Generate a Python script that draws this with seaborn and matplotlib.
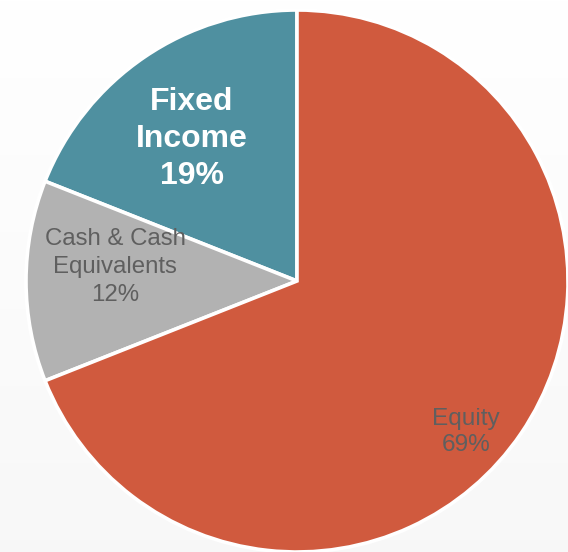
import numpy as np
import seaborn as sns
import matplotlib.pyplot as plt

# data
categories = ['Fixed Income', 'Cash & Cash Equivalents', 'Equity']
shares = [19, 12, 69]
label_texts = ['Fixed\nIncome\n19%', 'Cash & Cash\nEquivalents\n12%', 'Equity\n69%']
colors = ['#4F90A0', '#B2B2B2', '#D05A3E']

sns.set_theme(style="white")
plt.rcParams['font.family'] = ['Liberation Sans', 'DejaVu Sans']

fig = plt.figure(figsize=(5.68, 5.52), dpi=100)

# soft white -> light grey background
bg = fig.add_axes([0, 0, 1, 1], zorder=0)
grad = np.linspace(1.0, 0.972, 256).reshape(-1, 1)
bg.imshow(np.dstack([grad, grad, grad]), aspect='auto', extent=[0, 1, 0, 1])
bg.axis('off')

ax = fig.add_axes([26 / 568, 0, 542 / 568, 542 / 552], zorder=1)
ax.patch.set_alpha(0)
wedges, _ = ax.pie(shares, colors=colors, startangle=90, counterclock=True,
                   radius=1.0,
                   wedgeprops=dict(edgecolor='white', linewidth=2.6))
ax.set_xlim(-1, 1)
ax.set_ylim(-1, 1)
ax.set_aspect('equal')
ax.axis('off')

# label placement: radial distance and angular nudge per wedge
label_r = [0.652, 0.673, 0.835]
label_nudge = [2.3, -4.4, -7.6]
label_style = [
    dict(color='white', fontsize=23, fontweight='bold', linespacing=1.3),
    dict(color='#5F5F5F', fontsize=17.3, linespacing=1.38),
    dict(color='#5F5F5F', fontsize=17.6, linespacing=1.23),
]
for w, txt, r, dn, st in zip(wedges, label_texts, label_r, label_nudge, label_style):
    mid = np.deg2rad((w.theta1 + w.theta2) / 2 + dn)
    ax.text(r * np.cos(mid), r * np.sin(mid), txt, ha='center', va='center',
            multialignment='center', **st)

fig.savefig('out.png', dpi=100)
